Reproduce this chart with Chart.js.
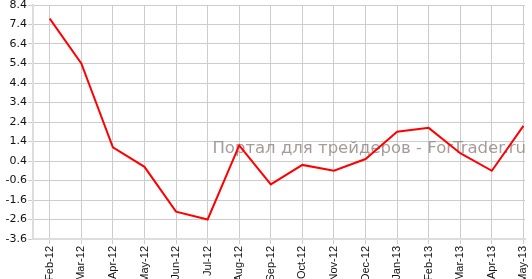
<!DOCTYPE html>
<html>
<head>
<meta charset="utf-8">
<script src="https://cdn.jsdelivr.net/npm/chart.js@4/dist/chart.umd.min.js"></script>
<style>
  html, body { margin: 0; padding: 0; background: #fff; }
  #wrap { width: 532px; height: 279px; }
</style>
</head>
<body>
<div id="wrap"><canvas id="chart" width="532" height="279"></canvas></div>
<script>
// Monthly values
const months = ['Feb-12', 'Mar-12', 'Apr-12', 'May-12', 'Jun-12', 'Jul-12', 'Aug-12', 'Sep-12',
  'Oct-12', 'Nov-12', 'Dec-12', 'Jan-13', 'Feb-13', 'Mar-13', 'Apr-13', 'May-13'];
const values = [7.7, 5.4, 1.1, 0.1, -2.2, -2.6, 1.2, -0.8, 0.2, -0.1, 0.5, 1.9, 2.1, 0.8, -0.1, 2.2];
const yTicks = [-3.6, -2.6, -1.6, -0.6, 0.4, 1.4, 2.4, 3.4, 4.4, 5.4, 6.4, 7.4, 8.4];
const watermark = 'Портал для трейдеров - ForTrader.ru';

// Draw the watermark behind the line
const watermarkPlugin = {
  id: 'watermark',
  beforeDatasetsDraw(chart) {
    const ctx = chart.ctx;
    ctx.save();
    ctx.font = '16.5px "DejaVu Sans", sans-serif';
    ctx.fillStyle = 'rgba(150, 138, 138, 0.85)';
    ctx.textAlign = 'right';
    ctx.textBaseline = 'middle';
    ctx.fillText(watermark, 526, 149);
    ctx.restore();
  }
};

new Chart(document.getElementById('chart'), {
  type: 'line',
  data: {
    datasets: [{
      data: values.map((v, i) => ({ x: i, y: v })),
      borderColor: '#ff0000',
      borderWidth: 2,
      pointRadius: 0,
      tension: 0,
      fill: false
    }]
  },
  options: {
    responsive: false,
    animation: false,
    layout: { padding: { top: 5, right: 7, left: 0, bottom: 0 } },
    plugins: { legend: { display: false }, tooltip: { enabled: false } },
    scales: {
      x: {
        type: 'linear',
        min: -0.53,
        max: 15.05,
        afterBuildTicks: (scale) => {
          scale.ticks = months.map((_, i) => ({ value: i }));
        },
        afterFit: (scale) => {
          scale.height = 40;
          scale.paddingLeft = 0;
          scale.paddingRight = 0;
        },
        ticks: {
          autoSkip: false,
          minRotation: 90,
          maxRotation: 90,
          padding: 2,
          color: '#111',
          font: { family: '"Liberation Sans", Arial, sans-serif', size: 11 },
          callback: (v) => months[v]
        },
        grid: { color: '#cccccc', lineWidth: 1, tickLength: 5 },
        border: { color: '#dddddd', width: 2 }
      },
      y: {
        min: -3.6,
        max: 8.4,
        afterBuildTicks: (scale) => {
          scale.ticks = yTicks.map((v) => ({ value: v }));
        },
        afterFit: (scale) => {
          scale.width = 33;
          scale.paddingTop = 0;
          scale.paddingBottom = 0;
        },
        ticks: {
          padding: 1,
          color: '#111',
          font: { family: '"DejaVu Sans", Verdana, sans-serif', size: 11 },
          callback: (v) => v.toFixed(1)
        },
        grid: { color: '#cccccc', lineWidth: 1, tickLength: 5 },
        border: { color: '#dddddd', width: 2 }
      }
    }
  },
  plugins: [watermarkPlugin]
});
</script>
</body>
</html>
